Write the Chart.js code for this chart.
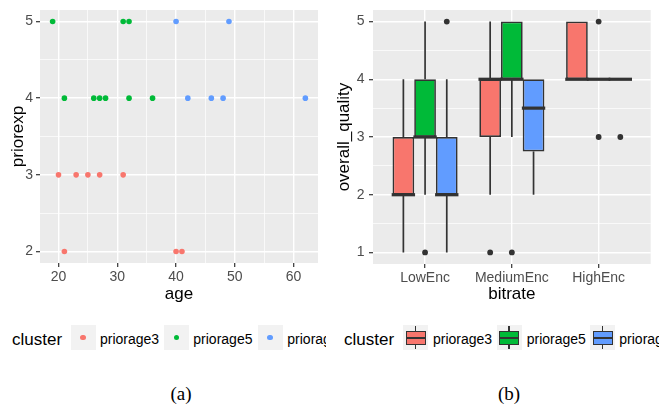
<!DOCTYPE html>
<html><head><meta charset="utf-8">
<script src="https://cdn.jsdelivr.net/npm/chart.js@4.4.1/dist/chart.umd.min.js"></script>
<style>
html,body{margin:0;padding:0;background:#fff;width:659px;height:404px;overflow:hidden;font-family:"Liberation Sans",Arial,sans-serif;}
canvas{position:absolute;top:0;}
#ca{left:0;}
#cb{left:330px;}
.leg{position:absolute;top:325px;height:25px;overflow:hidden;white-space:nowrap;}
.lt{position:absolute;top:1.5px;line-height:25px;font-size:17px;color:#000;}
.key{position:absolute;top:0;width:25px;height:25px;background:#F2F2F2;}
.lab{position:absolute;top:1.5px;line-height:25px;font-size:14px;color:#000;}
.dot{position:absolute;left:9.8px;top:9.8px;width:5.4px;height:5.4px;border-radius:50%;}
.wh{position:absolute;left:11.65px;width:1.7px;top:1px;bottom:1px;background:#333;}
.bx{position:absolute;left:2.5px;width:20px;top:6px;height:14px;border:1.7px solid #333;box-sizing:border-box;}
.md{position:absolute;left:2.5px;width:20px;top:12px;height:2px;background:#333;}
.cap{position:absolute;top:383px;width:100px;text-align:center;line-height:22px;font-family:"Liberation Serif","Times New Roman",serif;font-size:19px;color:#000;}
</style></head>
<body>
<canvas id="ca" width="330" height="310"></canvas>
<canvas id="cb" width="329" height="310"></canvas>
<div class="leg" id="legA" style="left:0;width:326px;"></div>
<div class="leg" id="legB" style="left:330px;width:329px;"></div>
<div class="cap" style="left:131px;">(a)</div>
<div class="cap" style="left:459px;">(b)</div>
<script>
// ---------- data ----------
const clusters = ['priorage3', 'priorage5', 'priorage6'];
const clusterColors = ['#F8766D', '#00BA38', '#619CFF'];

// (a) scatter: age vs priorexp
const age3 = [20, 23, 25, 27, 31, 21, 40, 41];
const exp3 = [3, 3, 3, 3, 3, 2, 2, 2];
const age5 = [19, 31, 32, 21, 26, 27, 28, 32, 36];
const exp5 = [5, 5, 5, 4, 4, 4, 4, 4, 4];
const age6 = [40, 49, 42, 46, 48, 62];
const exp6 = [5, 5, 4, 4, 4, 4];
const ageTicks = [20, 30, 40, 50, 60];
const ageMinor = [25, 35, 45, 55];
const expTicks = [2, 3, 4, 5];
const expMinor = [2.5, 3.5, 4.5];

// (b) boxplot: overall_quality by bitrate
const bitrates = ['LowEnc', 'MediumEnc', 'HighEnc'];
const qualTicks = [1, 2, 3, 4, 5];
const qualMinor = [1.5, 2.5, 3.5, 4.5];
const p3Low = [1, 2, 4], p3Q1 = [2, 3, 4], p3Med = [2, 4, 4], p3Q3 = [3, 4, 5], p3High = [4, 5, 5];
const p5Low = [2, 3, 4], p5Q1 = [3, 4, 4], p5Med = [3, 4, 4], p5Q3 = [4, 5, 4], p5High = [5, 5, 4];
const p6Low = [1, 2, 4], p6Q1 = [2, 2.75, 4], p6Med = [2, 3.5, 4], p6Q3 = [3, 4, 4], p6High = [4, 4, 4];
const p3OutCat = ['MediumEnc'], p3OutVal = [1];
const p5OutCat = ['LowEnc', 'MediumEnc', 'HighEnc', 'HighEnc'], p5OutVal = [1, 1, 5, 3];
const p6OutCat = ['LowEnc', 'HighEnc'], p6OutVal = [5, 3];

// ---------- helpers ----------
const FONT = "'Liberation Sans', Arial, sans-serif";
Chart.defaults.font.family = FONT;

const panelBg = {
  id: 'panelBg',
  beforeDraw(c) {
    const a = c.chartArea, ctx = c.ctx;
    ctx.save(); ctx.fillStyle = '#EBEBEB';
    ctx.fillRect(a.left, a.top, a.right - a.left, a.bottom - a.top);
    ctx.restore();
  }
};

function makeScale(o) {
  const all = o.major.concat(o.minor).sort((a, b) => a - b);
  const isMajor = v => o.major.includes(v);
  return {
    type: 'linear', min: o.min, max: o.max, offset: false, beginAtZero: false,
    afterBuildTicks: s => { s.ticks = all.map(v => ({ value: v })); },
    afterFit: s => {
      if (o.horiz) s.height = o.size; else s.width = o.size;
      s.paddingTop = 0; s.paddingBottom = 0; s.paddingLeft = 0; s.paddingRight = 0;
    },
    ticks: {
      autoSkip: false, maxRotation: 0, minRotation: 0, padding: o.tickPad,
      color: '#4D4D4D', font: { family: FONT, size: 14 },
      callback: v => isMajor(v) ? o.fmt(v) : ''
    },
    grid: {
      offset: false, color: '#FFFFFF', drawTicks: true, tickLength: 4,
      lineWidth: c => isMajor(c.tick.value) ? 1.4 : 0.7,
      tickColor: c => isMajor(c.tick.value) ? '#333333' : 'rgba(0,0,0,0)',
      tickWidth: 1.2
    },
    border: { display: false },
    title: { display: true, text: o.title, color: '#000', font: { family: FONT, size: 17 }, padding: o.titlePad }
  };
}

// ---------- chart (a) ----------
const scatterSets = [[age3, exp3], [age5, exp5], [age6, exp6]].map((d, k) => ({
  label: clusters[k],
  data: d[0].map((a, i) => ({ x: a, y: d[1][i] })),
  backgroundColor: clusterColors[k], pointRadius: 2.8, pointBorderWidth: 0, pointHoverRadius: 2.8
}));

new Chart(document.getElementById('ca'), {
  type: 'scatter',
  data: { datasets: scatterSets },
  options: {
    responsive: false, animation: false, events: [],
    layout: { padding: { left: 0, right: 12, top: 10, bottom: 0 } },
    plugins: { legend: { display: false }, tooltip: { enabled: false } },
    scales: {
      x: makeScale({ min: 16.85, max: 64.15, major: ageTicks, minor: ageMinor, fmt: v => String(v),
        horiz: true, size: 47, tickPad: 2, title: 'age', titlePad: { top: 0, bottom: 5 } }),
      y: makeScale({ min: 1.85, max: 5.15, major: expTicks, minor: expMinor, fmt: v => String(v),
        horiz: false, size: 40, tickPad: 3, title: 'priorexp', titlePad: { top: 7.8, bottom: 0 } })
    }
  },
  plugins: [panelBg]
});

// ---------- chart (b) ----------
const lows = [p3Low, p5Low, p6Low], q1s = [p3Q1, p5Q1, p6Q1], meds = [p3Med, p5Med, p6Med];
const q3s = [p3Q3, p5Q3, p6Q3], highs = [p3High, p5High, p6High];
const outCats = [p3OutCat, p5OutCat, p6OutCat], outVals = [p3OutVal, p5OutVal, p6OutVal];
const dodge = 0.75 / clusters.length;

const boxSets = clusters.map((c, k) => ({
  type: 'bar', label: c,
  data: bitrates.map((b, i) => ({ x: i + 1, y: [q1s[k][i], q3s[k][i]] })),
  backgroundColor: clusterColors[k], borderColor: '#333333', borderWidth: 1.7,
  borderSkipped: false, grouped: true, categoryPercentage: 0.75, barPercentage: 1
}));
const outlierSets = clusters.map((c, k) => ({
  type: 'scatter', label: c + ' outliers',
  data: outCats[k].map((cat, j) => ({ x: bitrates.indexOf(cat) + 1 + (k - (clusters.length - 1) / 2) * dodge, y: outVals[k][j] })),
  backgroundColor: '#333333', pointRadius: 2.9, pointBorderWidth: 0, pointHoverRadius: 2.9
}));

function forBoxes(c, fn) {
  const y = c.scales.y;
  clusters.forEach((cl, k) => {
    const meta = c.getDatasetMeta(k);
    meta.data.forEach((bar, i) => {
      const p = bar.getProps(['x', 'width'], true);
      fn(k, i, p.x, p.width, y);
    });
  });
}
const boxParts = {
  id: 'boxParts',
  beforeDatasetsDraw(c) {
    const ctx = c.ctx;
    ctx.save(); ctx.strokeStyle = '#333333'; ctx.lineWidth = 1.7; ctx.lineCap = 'butt';
    forBoxes(c, (k, i, x, w, y) => {
      ctx.beginPath();
      ctx.moveTo(x, y.getPixelForValue(q3s[k][i])); ctx.lineTo(x, y.getPixelForValue(highs[k][i]));
      ctx.moveTo(x, y.getPixelForValue(q1s[k][i])); ctx.lineTo(x, y.getPixelForValue(lows[k][i]));
      ctx.stroke();
    });
    ctx.restore();
  },
  afterDatasetsDraw(c) {
    const ctx = c.ctx;
    ctx.save(); ctx.strokeStyle = '#333333'; ctx.lineWidth = 3.2; ctx.lineCap = 'butt';
    forBoxes(c, (k, i, x, w, y) => {
      const py = y.getPixelForValue(meds[k][i]);
      ctx.beginPath(); ctx.moveTo(x - w / 2 - 0.85, py); ctx.lineTo(x + w / 2 + 0.85, py); ctx.stroke();
    });
    ctx.restore();
  }
};

new Chart(document.getElementById('cb'), {
  type: 'bar',
  data: { datasets: boxSets.concat(outlierSets) },
  options: {
    responsive: false, animation: false, events: [],
    layout: { padding: { left: 0, right: 8.3, top: 10, bottom: 0 } },
    plugins: { legend: { display: false }, tooltip: { enabled: false } },
    scales: {
      x: makeScale({ min: 0.4, max: 3.6, major: [1, 2, 3], minor: [], fmt: v => bitrates[v - 1],
        horiz: true, size: 46, tickPad: 2, title: 'bitrate', titlePad: { top: 0, bottom: 5 } }),
      y: makeScale({ min: 0.8, max: 5.2, major: qualTicks, minor: qualMinor, fmt: v => String(v),
        horiz: false, size: 43, tickPad: 4.5, title: 'overall_quality', titlePad: { top: 4.4, bottom: 0 } })
    }
  },
  plugins: [panelBg, boxParts]
});

// ---------- legends (HTML text) ----------
function buildLegend(el, titleLeft, keyLefts, labLefts, glyph) {
  let h = '<span class="lt" style="left:' + titleLeft + 'px">cluster</span>';
  clusters.forEach((c, k) => {
    h += '<div class="key" style="left:' + keyLefts[k] + 'px">' + glyph(clusterColors[k]) + '</div>';
    h += '<span class="lab" style="left:' + labLefts[k] + 'px">' + c + '</span>';
  });
  el.innerHTML = h;
}
buildLegend(document.getElementById('legA'), 12, [70.5, 164, 257.7], [100, 193.3, 287.3],
  col => '<div class="dot" style="background:' + col + '"></div>');
buildLegend(document.getElementById('legB'), 14, [73, 166.7, 260], [103, 196.7, 289.3],
  col => '<div class="wh"></div><div class="bx" style="background:' + col + '"></div><div class="md"></div>');
</script>
</body></html>
